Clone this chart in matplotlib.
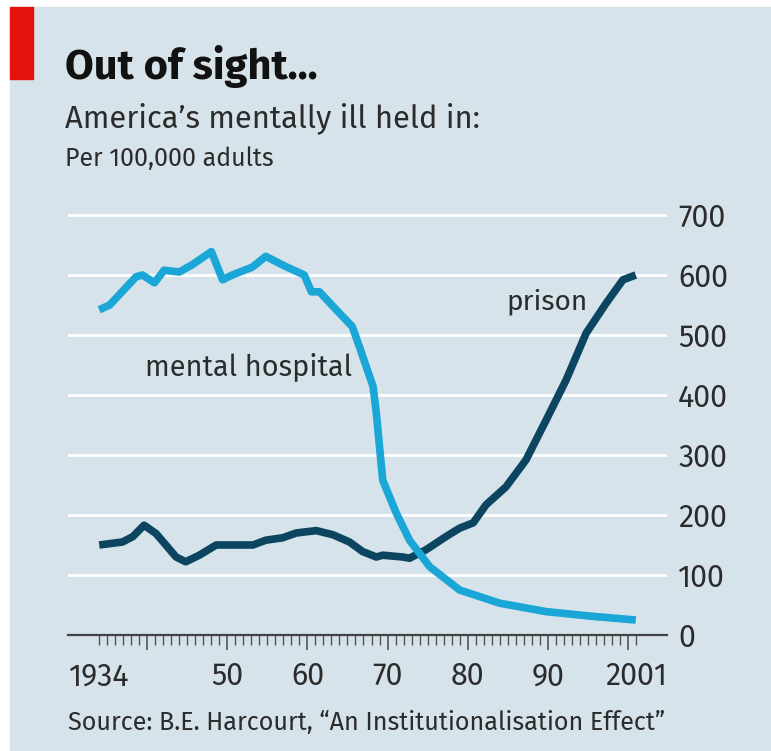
import matplotlib
matplotlib.use("Agg")
import matplotlib.pyplot as plt
from matplotlib.patches import Rectangle
from matplotlib.ticker import FixedLocator, NullFormatter

# data (per 100,000 adults)
hosp_years = [1934, 1935.3, 1938.6, 1939.4, 1940.9, 1942.1, 1944, 1945.6, 1948, 1949.4,
              1950.6, 1953.1, 1954.8, 1957.3, 1959.6, 1960.5, 1961.5, 1963.6, 1965.6,
              1966.5, 1968.2, 1968.6, 1969, 1969.4, 1971.1, 1972.75, 1975.25, 1979,
              1984, 1989.8, 1995.7, 2001]
hosp_vals = [542, 550, 597, 600, 587, 608, 605, 617, 639, 592,
             600, 613, 631, 614, 600, 572, 572, 542, 514,
             480, 414, 370, 314, 258, 203, 158, 114, 75,
             53, 39, 31, 25]

prison_years = [1934, 1936.9, 1938.2, 1939.6, 1941.1, 1943.6, 1944.8, 1946.5, 1948.6,
                1953.2, 1954.8, 1956.9, 1958.6, 1961.1, 1963.2, 1965.25, 1966.9,
                1968.6, 1969.4, 1971.9, 1972.75, 1974.8, 1977.3, 1979, 1980.7, 1982.3,
                1984.8, 1987.3, 1989.8, 1992.3, 1994.8, 1997.3, 1999.4, 2001]
prison_vals = [150, 155, 164, 183, 169, 130, 122, 133, 150,
               150, 158, 162, 170, 174, 167, 155, 139,
               130, 133, 130, 128, 142, 164, 178, 187, 217,
               247, 292, 358, 425, 503, 553, 592, 600]

label_years = [1934, 1950, 1960, 1970, 1980, 1990, 2001]
label_text = ["1934", "50", "60", "70", "80", "90", "2001"]
y_ticks = [0, 100, 200, 300, 400, 500, 600, 700]

BG = "#d6e3ea"
LIGHT = "#1aa6d6"
DARK = "#0c4560"
TXT = "#2b2b2b"

plt.rcParams["font.family"] = ["Fira Sans", "DejaVu Sans"]

W, H = 771, 751
fig = plt.figure(figsize=(W / 100, H / 100), dpi=100, facecolor="white")

def fx(px):
    return px / W

def fy(py):
    return 1 - py / H

# panel + red tag
fig.patches.append(Rectangle((fx(10), 0), 1 - fx(10), fy(7), transform=fig.transFigure,
                             color=BG, zorder=-5))
fig.patches.append(Rectangle((fx(10), fy(79)), fx(23), fy(7) - fy(79),
                             transform=fig.transFigure, color="#e3120b", zorder=-4))

fig.text(fx(65), fy(79), "Out of sight...", fontsize=30, fontweight="bold",
         color="#111111", va="baseline")
fig.text(fx(65), fy(127), "America\u2019s mentally ill held in:", fontsize=22.3,
         color=TXT, va="baseline")
fig.text(fx(65), fy(166), "Per 100,000 adults", fontsize=18, color=TXT, va="baseline")
fig.text(fx(68), fy(730), "Source: B.E. Harcourt, \u201cAn Institutionalisation Effect\u201d",
         fontsize=18.1, color=TXT, va="baseline")

ax = fig.add_axes([fx(68), fy(635), fx(667) - fx(68), fy(203) - fy(635)])
ax.set_facecolor("none")
ax.set_xlim(1930.1, 2004.9)
ax.set_ylim(0, 720)

ax.plot(prison_years, prison_vals, color=DARK, lw=5.5, solid_joinstyle="round",
        solid_capstyle="butt", zorder=3)
ax.plot(hosp_years, hosp_vals, color=LIGHT, lw=5.5, solid_joinstyle="round",
        solid_capstyle="butt", zorder=4)

ax.text(1939.7, 447, "mental hospital", fontsize=20.8, color=TXT, va="center")
ax.text(1984.9, 555, "prison", fontsize=20.2, color=TXT, va="center")

# gridlines
for v in y_ticks[1:]:
    ax.axhline(v, color="white", lw=2, zorder=1)

for s in ["top", "left", "right"]:
    ax.spines[s].set_visible(False)
ax.spines["bottom"].set_color("#444444")
ax.spines["bottom"].set_linewidth(1.6)

ax.yaxis.tick_right()
ax.set_yticks(y_ticks)
ax.tick_params(axis="y", length=0, pad=8, labelsize=22, labelcolor=TXT)

ax.xaxis.set_major_locator(FixedLocator(list(range(1940, 2001, 10))))
ax.xaxis.set_minor_locator(FixedLocator(list(range(1934, 2002))))
ax.xaxis.set_major_formatter(NullFormatter())
ax.tick_params(axis="x", which="major", length=11, width=1.2, color="#555555")
ax.tick_params(axis="x", which="minor", length=7, width=1.0, color="#555555")

sec = ax.secondary_xaxis("bottom")
sec.set_xticks(label_years)
sec.set_xticklabels(label_text)
sec.tick_params(length=0, pad=19, labelsize=22, labelcolor=TXT)
sec.spines["bottom"].set_visible(False)

fig.savefig("out.png", dpi=100, facecolor="white")
